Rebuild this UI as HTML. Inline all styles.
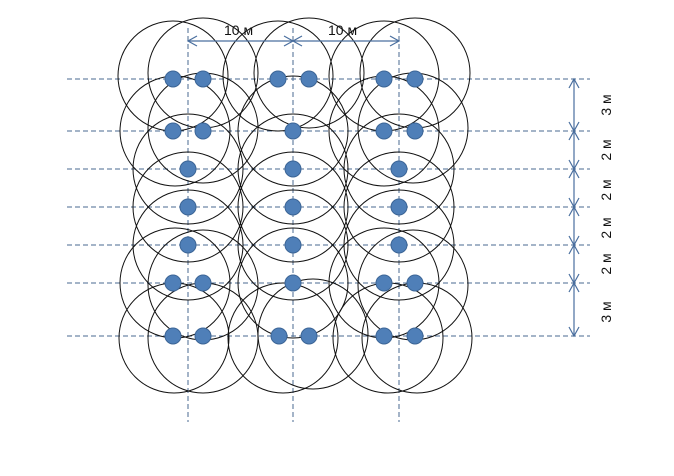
<!DOCTYPE html>
<html><head><meta charset="utf-8"><style>body{margin:0;background:#fff}svg{display:block}</style></head><body>
<svg width="674" height="476" xmlns="http://www.w3.org/2000/svg" font-family="Liberation Sans, sans-serif">
<g stroke="#4a6a90" stroke-width="1" stroke-dasharray="5,3">
<line x1="67" y1="79" x2="590" y2="79"/><line x1="67" y1="131" x2="590" y2="131"/>
<line x1="67" y1="169" x2="590" y2="169"/><line x1="67" y1="207" x2="590" y2="207"/>
<line x1="67" y1="245" x2="590" y2="245"/><line x1="67" y1="283" x2="590" y2="283"/>
<line x1="67" y1="336" x2="590" y2="336"/>
<line x1="188" y1="28" x2="188" y2="422"/><line x1="293" y1="28" x2="293" y2="422"/><line x1="399" y1="28" x2="399" y2="422"/>
</g>
<g fill="none" stroke="#111" stroke-width="1">
<circle cx="173" cy="76" r="55"/><circle cx="203" cy="73" r="55"/>
<circle cx="278" cy="76" r="55"/><circle cx="309" cy="73" r="55"/>
<circle cx="384" cy="76" r="55"/><circle cx="415" cy="73" r="55"/>
<circle cx="175" cy="131" r="55"/><circle cx="203" cy="128" r="55"/>
<circle cx="293" cy="131" r="55"/>
<circle cx="384" cy="131" r="55"/><circle cx="413" cy="128" r="55"/>
<circle cx="188" cy="169" r="55"/><circle cx="293" cy="169" r="55"/><circle cx="399" cy="169" r="55"/>
<circle cx="188" cy="207" r="55"/><circle cx="293" cy="207" r="55"/><circle cx="399" cy="207" r="55"/>
<circle cx="188" cy="245" r="55"/><circle cx="293" cy="245" r="55"/><circle cx="399" cy="245" r="55"/>
<circle cx="175" cy="283" r="55"/><circle cx="203" cy="285" r="55"/>
<circle cx="293" cy="283" r="55"/>
<circle cx="384" cy="283" r="55"/><circle cx="413" cy="285" r="55"/>
<circle cx="174" cy="338" r="55"/><circle cx="203" cy="338" r="55"/>
<circle cx="283" cy="338" r="55"/><circle cx="313" cy="334" r="55"/>
<circle cx="388" cy="338" r="55"/><circle cx="417" cy="338" r="55"/>
</g>
<g fill="#4f7fb8" stroke="#3c6596" stroke-width="1">
<circle cx="173" cy="79" r="8"/><circle cx="203" cy="79" r="8"/>
<circle cx="278" cy="79" r="8"/><circle cx="309" cy="79" r="8"/>
<circle cx="384" cy="79" r="8"/><circle cx="415" cy="79" r="8"/>
<circle cx="173" cy="131" r="8"/><circle cx="203" cy="131" r="8"/>
<circle cx="293" cy="131" r="8"/>
<circle cx="384" cy="131" r="8"/><circle cx="415" cy="131" r="8"/>
<circle cx="188" cy="169" r="8"/><circle cx="293" cy="169" r="8"/><circle cx="399" cy="169" r="8"/>
<circle cx="188" cy="207" r="8"/><circle cx="293" cy="207" r="8"/><circle cx="399" cy="207" r="8"/>
<circle cx="188" cy="245" r="8"/><circle cx="293" cy="245" r="8"/><circle cx="399" cy="245" r="8"/>
<circle cx="173" cy="283" r="8"/><circle cx="203" cy="283" r="8"/>
<circle cx="293" cy="283" r="8"/>
<circle cx="384" cy="283" r="8"/><circle cx="415" cy="283" r="8"/>
<circle cx="173" cy="336" r="8"/><circle cx="203" cy="336" r="8"/>
<circle cx="279" cy="336" r="8"/><circle cx="309" cy="336" r="8"/>
<circle cx="384" cy="336" r="8"/><circle cx="415" cy="336" r="8"/>
</g>
<g stroke="#4a6f9f" stroke-width="1.2" fill="none">
<line x1="188" y1="41" x2="399" y2="41"/>
<polyline points="197,36 188,41 197,46"/><polyline points="284,36 293,41 284,46"/>
<polyline points="302,36 293,41 302,46"/><polyline points="390,36 399,41 390,46"/>
<line x1="574" y1="79" x2="574" y2="336"/>
<polyline points="569,88 574,79 579,88"/><polyline points="569,327 574,336 579,327"/>
<path d="M569,122 574,131 579,122 M569,140 574,131 579,140"/>
<path d="M569,160 574,169 579,160 M569,178 574,169 579,178"/>
<path d="M569,198 574,207 579,198 M569,216 574,207 579,216"/>
<path d="M569,236 574,245 579,236 M569,254 574,245 579,254"/>
<path d="M569,274 574,283 579,274 M569,292 574,283 579,292"/>
</g>
<g font-size="14" fill="#111">
<text x="224" y="35">10 м</text><text x="328" y="35">10 м</text>
<text transform="translate(611,105) rotate(-90)" text-anchor="middle">3 м</text>
<text transform="translate(611,150) rotate(-90)" text-anchor="middle">2 м</text>
<text transform="translate(611,190) rotate(-90)" text-anchor="middle">2 м</text>
<text transform="translate(611,228) rotate(-90)" text-anchor="middle">2 м</text>
<text transform="translate(611,264) rotate(-90)" text-anchor="middle">2 м</text>
<text transform="translate(611,312) rotate(-90)" text-anchor="middle">3 м</text>
</g>
</svg>
</body></html>
